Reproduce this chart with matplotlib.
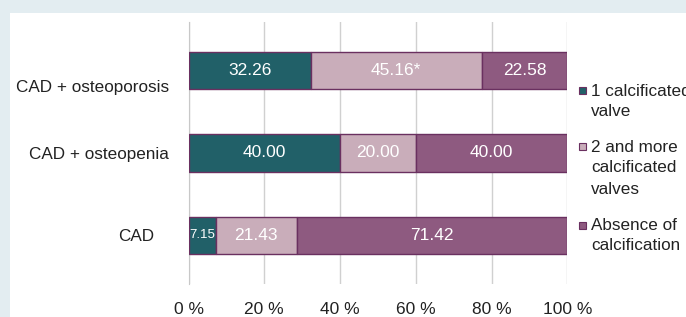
import matplotlib
matplotlib.use("Agg")
import matplotlib.pyplot as plt
from matplotlib.patches import Rectangle
from matplotlib.transforms import ScaledTranslation
import numpy as np

# Data (percent of patients)
groups = ["CAD", "CAD + osteopenia", "CAD + osteoporosis"]
one_valve = [7.15, 40.00, 32.26]
two_more_valves = [21.43, 20.00, 45.16]
no_calcification = [71.42, 40.00, 22.58]
value_labels = [
    ["7.15", "40.00", "32.26"],
    ["21.43", "20.00", "45.16*"],
    ["71.42", "40.00", "22.58"],
]
series_names = ["1 calcificated\nvalve", "2 and more\ncalcificated\nvalves", "Absence of\ncalcification"]
colors = ["#216068", "#c9adba", "#8e5a80"]
x_ticks = [0, 20, 40, 60, 80, 100]

plt.rcParams["font.family"] = ["Liberation Sans", "DejaVu Sans"]
W, H = 686, 317
fig = plt.figure(figsize=(W / 100, H / 100), dpi=100, facecolor="#e3edf1")

# white panel behind everything
fig.patches.append(Rectangle((9.6 / W, 0), 1, 1 - 12.7 / H, transform=fig.transFigure,
                             facecolor="white", edgecolor="none", zorder=-10))

ax = fig.add_axes([188.5 / W, 32.7 / H, 378.9 / W, 262.6 / H])
ax.set_facecolor("none")

y = np.arange(len(groups))
left = np.zeros(len(groups))
for vals, col, labels in zip([one_valve, two_more_valves, no_calcification], colors, value_labels):
    vals = np.array(vals)
    ax.barh(y, vals, left=left, height=0.457, color=col, edgecolor="#6a3060", linewidth=1.0, zorder=3)
    for yi, l, v, t in zip(y, left, vals, labels):
        fs = 9.5 if v < 10 else 12.5
        ax.text(l + v / 2, yi, t, ha="center", va="center", color="white", fontsize=fs, zorder=4)
    left += vals

ax.set_xlim(0, 100)
ax.set_ylim(-0.593, 2.593)
ax.set_xticks(x_ticks)
ax.set_xticklabels([f"{t} %" for t in x_ticks], fontsize=12.5, color="#222222")
ax.set_yticks(y)
ax.set_yticklabels(groups, fontsize=12.3, color="#222222")
ax.tick_params(axis="x", length=0, pad=13)
ax.tick_params(axis="y", length=0, pad=14)
ax.grid(axis="x", color="#d0d0d0", linewidth=1.0, zorder=1)
for s in ["top", "right", "bottom"]:
    ax.spines[s].set_visible(False)
ax.spines["left"].set_color("#c8c8c8")

# label offsets as in the original layout
ylabs = ax.get_yticklabels()
ylabs[0].set_transform(ylabs[0].get_transform() + ScaledTranslation(-0.15, 0, fig.dpi_scale_trans))
ylabs[2].set_transform(ylabs[2].get_transform() + ScaledTranslation(0, -0.15, fig.dpi_scale_trans))

# legend drawn manually (marker aligned with first line)
legend_tops = [91, 147, 225]
line_step = 21
for name, col, ytop in zip(series_names, colors, legend_tops):
    fig.patches.append(Rectangle((579 / W, 1 - (ytop + 3.5) / H), 7 / W, 7 / H,
                                 transform=fig.transFigure, facecolor=col,
                                 edgecolor="#6a3060", linewidth=0.8, zorder=5))
    for i, line in enumerate(name.split("\n")):
        fig.text(591 / W, 1 - (ytop + i * line_step) / H, line, ha="left", va="center",
                 fontsize=12.3, color="#222222")

fig.savefig("out.png", dpi=100, facecolor=fig.get_facecolor())
